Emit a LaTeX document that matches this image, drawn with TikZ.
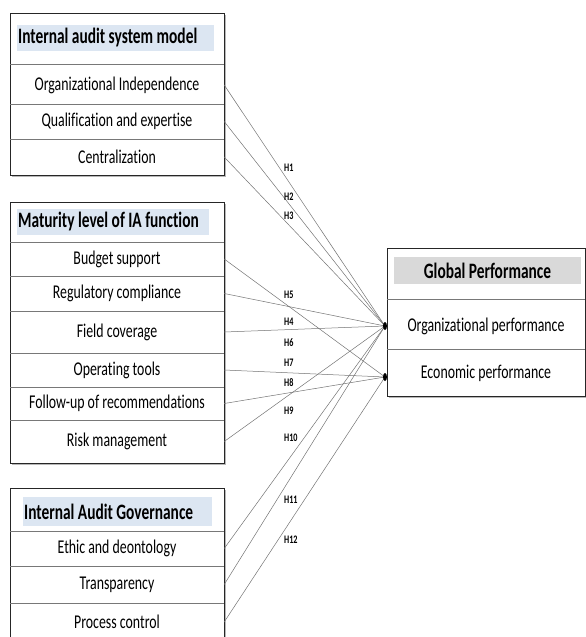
\documentclass[tikz,border=0pt]{standalone}
\usepackage{fontspec}
\setmainfont{Carlito}[FakeStretch=0.71, Ligatures=CommonOff]
\newfontfamily\hdrfont{Carlito}[FakeStretch=0.70, Ligatures=CommonOff]
\usetikzlibrary{shadows,shapes.geometric}
\definecolor{hdrblue}{RGB}{220,230,242}
\definecolor{hdrgray}{RGB}{217,217,217}
\definecolor{linkgray}{RGB}{115,115,115}
\definecolor{sepgray}{RGB}{120,120,120}
\begin{document}
\begin{tikzpicture}[x=1pt,y=-1pt,
  frame/.style={draw=black!85, line width=0.8pt, fill=white, inner sep=0,
    drop shadow={shadow xshift=2pt,shadow yshift=-2pt,opacity=0.4,fill=black!70}},
  rowbox/.style={inner sep=0, minimum width=214pt, font=\fontsize{19.5}{21}\selectfont},
  band/.style={inner sep=0, minimum height=26pt},
  hdrtext/.style={inner sep=0, anchor=west, font=\hdrfont\bfseries\fontsize{22}{24}\selectfont},
  sep/.style={draw=sepgray, line width=0.6pt},
  link/.style={draw=linkgray, line width=0.5pt},
  hlab/.style={inner sep=0, anchor=west, font=\bfseries\fontsize{11.5}{12}\selectfont},
  jdot/.style={ellipse, fill=black, inner sep=0, minimum width=4pt, minimum height=8pt}
]
\useasboundingbox (0,0) rectangle (586,637);
\clip (0,0) rectangle (586,637);

% frames
\node[frame, minimum width=214pt, minimum height=162pt] (frameA) at (117,94) {};
\node[frame, minimum width=214pt, minimum height=261pt] (frameB) at (117,332.5) {};
\node[frame, minimum width=214pt, minimum height=172pt] (frameC) at (117,574) {};
\node[frame, minimum width=198pt, minimum height=148pt] (frameD) at (486,322) {};

% box A
\node[band, fill=hdrblue, minimum width=197pt] (bandA) at (115.5,38) {};
\node[hdrtext] (hdrA) at (18,38) {Internal audit system model};
\node[rowbox, minimum height=40pt] (OI) at (117,85) {Organizational Independence};
\node[rowbox, minimum height=35pt] (QE) at (117,121.5) {Qualification and expertise};
\node[rowbox, minimum height=36pt] (CE) at (117,157) {Centralization};
\draw[sep] (10,64) -- (224,64);
\draw[sep] (10,104) -- (224,104);
\draw[sep] (10,139) -- (224,139);

% box B
\node[band, fill=hdrblue, minimum width=192pt] (bandB) at (113,222) {};
\node[hdrtext] (hdrB) at (18,222) {Maturity level of IA function};
\node[rowbox, minimum height=34pt] (BS) at (117,259) {Budget support};
\node[rowbox, minimum height=35pt] (RC) at (117,293.5) {Regulatory compliance};
\node[rowbox, minimum height=42pt] (FC) at (117,332) {Field coverage};
\node[rowbox, minimum height=34pt] (OT) at (117,370) {Operating tools};
\node[rowbox, minimum height=33pt] (FR) at (117,403.5) {Follow-up of recommendations};
\node[rowbox, minimum height=43pt] (RM) at (117,441.5) {Risk management};
\draw[sep] (10,242) -- (224,242);
\draw[sep] (10,276) -- (224,276);
\draw[sep] (10,311) -- (224,311);
\draw[sep] (10,353) -- (224,353);
\draw[sep] (10,387) -- (224,387);
\draw[sep] (10,420) -- (224,420);

% box C
\node[band, fill=hdrblue, minimum width=189pt, minimum height=29pt] (bandC) at (117.5,511.5) {};
\node[hdrtext] (hdrC) at (24,512) {Internal Audit Governance};
\node[rowbox, minimum height=35pt] (ED) at (117,548.5) {Ethic and deontology};
\node[rowbox, minimum height=37pt] (TR) at (117,584.5) {Transparency};
\node[rowbox, minimum height=38pt] (PC) at (117,622) {Process control};
\draw[sep] (10,531) -- (224,531);
\draw[sep] (10,566) -- (224,566);
\draw[sep] (10,603) -- (224,603);

% box D
\node[band, fill=hdrgray, minimum width=187pt, minimum height=27pt] (bandD) at (487.5,270.5) {};
\node[hdrtext, anchor=center] (hdrD) at (487.5,270.5) {Global Performance};
\node[rowbox, minimum width=198pt, minimum height=50pt] (OP) at (486,326) {Organizational performance};
\node[rowbox, minimum width=198pt, minimum height=47pt] (EP) at (486,373) {Economic performance};
\draw[sep] (387,299) -- (585,299);
\draw[sep] (387,349) -- (585,349);

% junctions
\coordinate (jO) at (385,326);
\coordinate (jE) at (385,377);

% connectors
\draw[link] (OI.east) -- (jO);
\draw[link] (QE.east) -- (jO);
\draw[link] (CE.east) -- (jO);
\draw[link] (BS.east) -- (jE);
\draw[link] (RC.east) -- (jO);
\draw[link] (FC.east) -- (jO);
\draw[link] (OT.east) -- (jE);
\draw[link] (FR.east) -- (jE);
\draw[link] (RM.east) -- (jO);
\draw[link] (ED.east) -- (jO);
\draw[link] (TR.east) -- (jO);
\draw[link] (PC.east) -- (jE);

\node[jdot] (dotO) at (jO) {};
\node[jdot] (dotE) at (jE) {};

% labels
\node[hlab] (H1) at (284,168) {H1};
\node[hlab] (H2) at (284,197) {H2};
\node[hlab] (H3) at (284,216) {H3};
\node[hlab] (H5) at (284,295) {H5};
\node[hlab] (H4) at (284,322) {H4};
\node[hlab] (H6) at (284,343) {H6};
\node[hlab] (H7) at (284,363) {H7};
\node[hlab] (H8) at (284,383) {H8};
\node[hlab] (H9) at (284,411) {H9};
\node[hlab] (H10) at (284,438) {H10};
\node[hlab] (H11) at (284,500) {H11};
\node[hlab] (H12) at (284,540) {H12};
\end{tikzpicture}
\end{document}
